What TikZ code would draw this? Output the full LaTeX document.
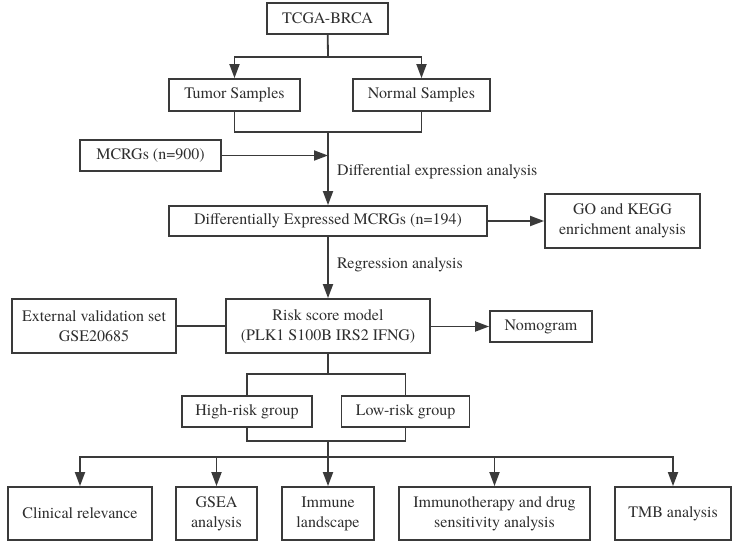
\documentclass[tikz,border=0pt]{standalone}
\usepackage{fontspec}
\IfFontExistsTF{texgyretermes-regular.otf}
	{\setmainfont{texgyretermes-regular.otf}}
	{}
\usetikzlibrary{arrows.meta,positioning}

\definecolor{linegray}{HTML}{3A3A3A}
\definecolor{textgray}{HTML}{2E2E2E}

\begin{document}
\begin{tikzpicture}[x=1pt,y=-1pt,
		box/.style={draw=linegray,line width=1.8pt,inner sep=0pt,align=center,
			text=textgray,font=\fontsize{16}{20}\selectfont},
		link/.style={draw=linegray,line width=1.8pt},
		arr/.style={link,-{Triangle[length=14pt,width=10pt]}},
		lbl/.style={anchor=west,inner sep=0pt,text=textgray,font=\fontsize{16}{20}\selectfont}]
			%\draw[help lines] (0,0) grid[step=50] (735,545);
			\useasboundingbox (0,0) rectangle (735,545);

			\node[box,minimum width=121pt,minimum height=31pt] (tcga) at (327.5,18.5) {TCGA-BRCA};
			\node[box,minimum width=131pt,minimum height=32pt] (tumor) at (234.5,95) {Tumor Samples};
			\node[box,minimum width=137pt,minimum height=32pt] (normal) at (421.5,95) {Normal Samples};
			\node[box,minimum width=141pt,minimum height=31pt] (mcrg) at (150.5,155.5) {MCRGs (n=900)};
			\node[box,minimum width=318pt,minimum height=30pt] (deg) at (328,221) {Differentially Expressed MCRGs (n=194)};
			\node[box,minimum width=155pt,minimum height=54pt] (go) at (622.5,221) {GO and KEGG\\enrichment analysis};
			\node[box,minimum width=204pt,minimum height=54pt] (risk) at (328,326) {Risk score model\\(PLK1 S100B IRS2 IFNG)};
			\node[box,minimum width=164pt,minimum height=54pt] (valid) at (94,326) {External validation set\\GSE20685};
			\node[box,minimum width=102pt,minimum height=31pt] (nomo) at (541,326.5) {Nomogram};
			\node[box,minimum width=130pt,minimum height=31pt] (high) at (247,411.5) {High-risk group};
			\node[box,minimum width=128pt,minimum height=31pt] (low) at (405.5,411.5) {Low-risk group};

			\node[box,minimum width=144pt,minimum height=53pt] (clin) at (80,513.5) {Clinical relevance};
			\node[box,minimum width=81pt,minimum height=53pt] (gsea) at (216.5,513.5) {GSEA\\analysis};
			\node[box,minimum width=92pt,minimum height=53pt] (immune) at (328,513.5) {Immune\\landscape};
			\node[box,minimum width=191pt,minimum height=53pt] (drug) at (494.5,513.5) {Immunotherapy and drug\\sensitivity analysis};
			\node[box,minimum width=116pt,minimum height=53pt] (tmb) at (673,513.5) {TMB analysis};

			\node[lbl] (dealbl) at (337,172) {Differential expression analysis};
			\node[lbl] (reglbl) at (337,265) {Regression analysis};

			% data split
			\coordinate (split) at (328,57);
			\draw[link] (tcga) -- (split);
			\draw[arr] (split) -| (tumor);
			\draw[arr] (split) -| (normal);

			\coordinate (merge) at (328,132);
			\draw[link] (tumor) |- (merge);
			\draw[link] (normal) |- (merge);
			\draw[arr] (merge) -- (deg);
			\draw[arr] (mcrg) -- (mcrg -| deg);

			\draw[arr] (deg) -- (go);
			\draw[arr] (deg) -- (risk);
			\draw[link] (valid) -- (risk);
			\draw[arr] (risk.east |- nomo) -- (nomo);

			% risk groups
			\coordinate (groups) at (328,374);
			\draw[link] (risk) -- (groups);
			\draw[link] (groups) -| (high);
			\draw[link] (groups) -| (low);

			\coordinate (joined) at (328,441);
			\coordinate (spread) at (328,457);
			\draw[link] (high) |- (joined);
			\draw[link] (low) |- (joined);
			\draw[arr] (joined) -- (immune);
			\draw[arr] (spread) -| (clin);
			\draw[arr] (spread) -| (gsea);
			\draw[arr] (spread) -| (drug);
			\draw[arr] (spread) -| (tmb);
		\end{tikzpicture}
\end{document}
